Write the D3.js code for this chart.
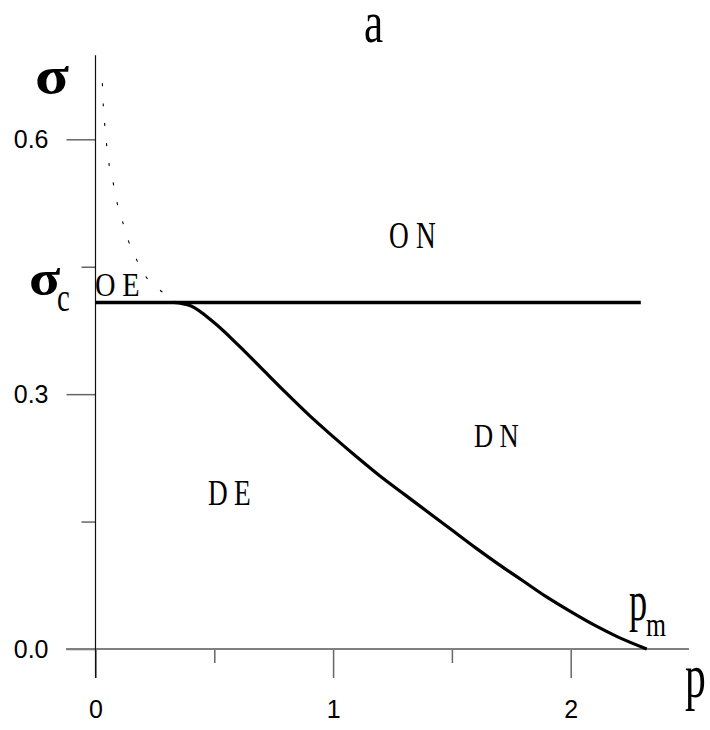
<!DOCTYPE html>
<html>
<head>
<meta charset="utf-8">
<script src="https://cdn.jsdelivr.net/npm/d3@7"></script>
<style>
  body { margin: 0; background: #fff; }
  svg { display: block; }
  .tick text { font-family: "Liberation Sans", Arial, sans-serif; font-size: 25px; fill: #000; }
  .lbl { font-family: "Liberation Serif", "Times New Roman", serif; fill: #000; }
</style>
</head>
<body>
<div id="chart"></div>
<script>
// phase boundary DE / DN
const pBoundary = [0.33, 0.40, 0.50, 0.60, 0.70, 0.80, 0.90, 1.00, 1.10, 1.20, 1.30,
                   1.40, 1.50, 1.60, 1.70, 1.80, 1.90, 2.00, 2.10, 2.20, 2.32];
const sigmaBoundary = [0.408, 0.404, 0.384, 0.358, 0.330, 0.302, 0.275, 0.250, 0.226, 0.203, 0.182,
                       0.161, 0.140, 0.119, 0.099, 0.080, 0.061, 0.044, 0.028, 0.014, 0.0];

// dotted metastability line
const pDotted = [0.029, 0.033, 0.040, 0.047, 0.058, 0.075, 0.092, 0.114, 0.138, 0.170, 0.208, 0.269, 0.335];
const sigmaDotted = [0.666, 0.638, 0.614, 0.593, 0.569, 0.548, 0.524, 0.503, 0.481, 0.460, 0.440, 0.423, 0.410];

const sigmaC = 0.408;
const pLineEnd = 2.295;

const xMajor = [0, 1, 2];
const xMinor = [0.5, 1.5];
const yMajor = [0.0, 0.3, 0.6];
const yMinor = [0.15, 0.45];

const width = 710, height = 730;

const svg = d3.select("#chart").append("svg")
    .attr("width", width)
    .attr("height", height);

const x = d3.scaleLinear().domain([0, 2]).range([95.5, 570.7]);
const y = d3.scaleLinear().domain([0, 0.6]).range([649, 139.3]);

// minor ticks first, then major ticks with labels
svg.append("g")
    .attr("transform", `translate(${x(0)},0)`)
    .call(d3.axisLeft(y).tickValues(yMinor).tickSize(14).tickFormat(""))
    .call(g => g.select(".domain").remove());

svg.append("g")
    .attr("transform", `translate(${x(0)},0)`)
    .call(d3.axisLeft(y).tickValues(yMajor).tickSize(29).tickPadding(18).tickFormat(d3.format(".1f")))
    .call(g => g.select(".domain").remove());

svg.append("g")
    .attr("transform", `translate(0,${y(0)})`)
    .call(d3.axisBottom(x).tickValues(xMinor).tickSize(14).tickFormat(""))
    .call(g => g.select(".domain").remove());

svg.append("g")
    .attr("transform", `translate(0,${y(0)})`)
    .call(d3.axisBottom(x).tickValues(xMajor).tickSize(29).tickPadding(22).tickFormat(d3.format("d")))
    .call(g => g.select(".domain").remove());

svg.selectAll(".tick line").attr("stroke", "#666").attr("stroke-width", 1.5);

// axis lines, crossing each other
svg.append("line")
    .attr("x1", x(-0.124)).attr("x2", x(2.498))
    .attr("y1", y(0)).attr("y2", y(0))
    .attr("stroke", "#808080").attr("stroke-width", 2);

svg.append("line")
    .attr("x1", x(0)).attr("x2", x(0))
    .attr("y1", y(-0.034)).attr("y2", y(0.699))
    .attr("stroke", "#111").attr("stroke-width", 1.2);

const line = d3.line()
    .x(d => x(d[0]))
    .y(d => y(d[1]))
    .curve(d3.curveMonotoneX);

// sigma_c horizontal line
svg.append("path")
    .datum([[0, sigmaC], [pLineEnd, sigmaC]])
    .attr("d", line)
    .attr("fill", "none")
    .attr("stroke", "#000")
    .attr("stroke-width", 3.5);

svg.append("path")
    .datum(d3.zip(pBoundary, sigmaBoundary))
    .attr("d", line)
    .attr("fill", "none")
    .attr("stroke", "#000")
    .attr("stroke-width", 3.2);

svg.append("path")
    .datum(d3.zip(pDotted, sigmaDotted))
    .attr("d", line)
    .attr("fill", "none")
    .attr("stroke", "#000")
    .attr("stroke-width", 1.1)
    .attr("stroke-dasharray", "3,17");

// serif labels, squeezed horizontally like the original
function label(px, py, txt, size, sx, sy, opts = {}) {
    svg.append("text")
        .attr("class", "lbl")
        .attr("transform", `translate(${px},${py}) scale(${sx},${sy})`)
        .attr("font-size", size)
        .attr("font-weight", opts.bold ? "bold" : null)
        .attr("letter-spacing", opts.ls || 0)
        .text(txt);
}

label(364, 42, "a", 40, 1.08, 1.5);
label(389, 248, "ON", 38, 0.72, 1, {ls: 10});
label(474, 447, "DN", 34, 0.78, 1, {ls: 8});
label(208, 505, "DE", 35, 0.78, 1, {ls: 8});
label(95, 296, "OE", 33, 0.86, 1, {ls: 8});
label(35, 93, "σ", 53, 1.18, 1, {bold: true});
label(29, 295, "σ", 50, 1.15, 1, {bold: true});
label(57, 311, "c", 40, 0.72, 1);
label(629, 620, "p", 56, 0.65, 1);
label(646, 636, "m", 33, 0.78, 1);
label(685, 697, "p", 64, 0.65, 1);
</script>
</body>
</html>
